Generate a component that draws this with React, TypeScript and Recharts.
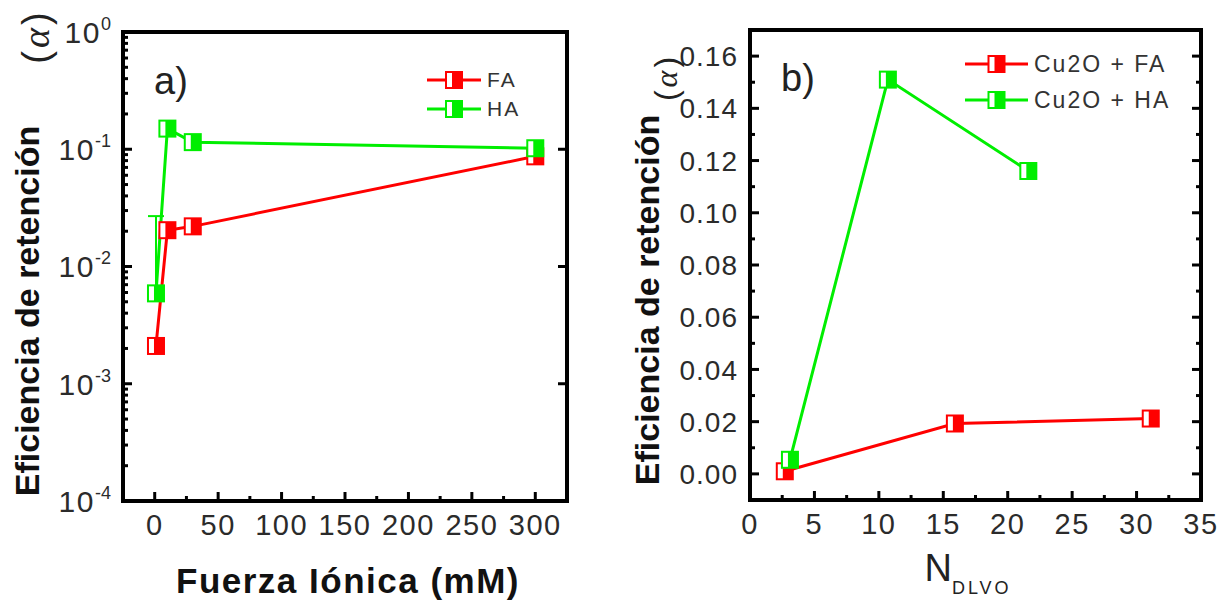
import React from "react";
import { LineChart, Line, XAxis, YAxis, ErrorBar, Legend, ReferenceArea } from "recharts";

// a) alfa vs fuerza iónica
const ionicFA = [1, 10, 30, 300];
const alphaFA = [0.0021, 0.0204, 0.022, 0.087];
const ionicHA = [1, 10, 30, 300];
const alphaHA = [0.0059, 0.15, 0.115, 0.102];
const errHA = [0.021, 0, 0, 0];

// b) alfa vs N_DLVO
const dlvoFA = [2.7, 15.9, 31.1];
const alphaDlvoFA = [0.001, 0.0193, 0.0212];
const dlvoHA = [3.1, 10.7, 21.6];
const alphaDlvoHA = [0.0054, 0.151, 0.116];

// ticks
const ionicTicks = [0, 50, 100, 150, 200, 250, 300];
const ionicMinor = [25, 75, 125, 175, 225, 275];
const logTicks = [0.0001, 0.001, 0.01, 0.1, 1];
const logMinor = [0.0001, 0.001, 0.01, 0.1].flatMap((d) =>
  [2, 3, 4, 5, 6, 7, 8, 9].map((m) => m * d)
);
const dlvoTicks = [0, 5, 10, 15, 20, 25, 30, 35];
const dlvoMinor = [2.5, 7.5, 12.5, 17.5, 22.5, 27.5, 32.5];
const alphaTicks = [0, 0.02, 0.04, 0.06, 0.08, 0.1, 0.12, 0.14, 0.16];
const alphaMinor = [0.01, 0.03, 0.05, 0.07, 0.09, 0.11, 0.13, 0.15];

const ionicDomain = [-25, 325];
const logDomain = [0.0001, 1];
const dlvoDomain = [0, 35];
const alphaDomain = [-0.01, 0.17];

const RED = "#ff0000";
const GREEN = "#00ee00";
const FONT = '"Liberation Sans", Arial, sans-serif';
const TICK_COLOR = "#2b2b2b";

const faIonic = ionicFA.map((x, i) => ({ x, y: alphaFA[i] }));
const haIonic = ionicHA.map((x, i) => ({ x, y: alphaHA[i], err: [0, errHA[i]] }));
const faDlvo = dlvoFA.map((x, i) => ({ x, y: alphaDlvoFA[i] }));
const haDlvo = dlvoHA.map((x, i) => ({ x, y: alphaDlvoHA[i] }));

// half filled square, like Origin
const HalfSquare = ({ cx, cy, color }: any) => {
  if (cx == null || cy == null) return null;
  return (
    <g>
      <rect x={cx - 8} y={cy - 8} width={16} height={16} fill="#fff" stroke={color} strokeWidth={2} />
      <rect x={cx - 2} y={cy - 8} width={10} height={16} fill={color} />
    </g>
  );
};

type Side = "bottom" | "top" | "left" | "right";

const tickMaker =
  (side: Side, majors: number[], label?: (v: number, x: number, y: number) => React.ReactNode) =>
  (props: any) => {
    const { x, y, payload } = props;
    const v = payload.value;
    const isMajor = majors.some((m) => Math.abs(m - v) < 1e-12);
    const len = isMajor ? 9 : 5;
    let x2 = x;
    let y2 = y;
    if (side === "bottom") y2 = y - len;
    if (side === "top") y2 = y + len;
    if (side === "left") x2 = x + len;
    if (side === "right") x2 = x - len;
    return (
      <g>
        <line x1={x} y1={y} x2={x2} y2={y2} stroke="#000" strokeWidth={3} />
        {isMajor && label ? label(v, x, y) : null}
      </g>
    );
  };

const bottomLabel = (v: number, x: number, y: number) => (
  <text
    x={x}
    y={y + 34}
    textAnchor="middle"
    fill={TICK_COLOR}
    fontSize={29}
    letterSpacing={1.5}
    fontFamily={FONT}
  >
    {v}
  </text>
);

const powLabel = (v: number, x: number, y: number) => (
  <text
    x={x - 12}
    y={y}
    dy="0.36em"
    textAnchor="end"
    fill={TICK_COLOR}
    fontSize={30}
    letterSpacing={1.5}
    fontFamily={FONT}
  >
    10
    <tspan dy={-13} fontSize={18} letterSpacing={0}>
      {Math.round(Math.log10(v))}
    </tspan>
  </text>
);

const decLabel = (v: number, x: number, y: number) => (
  <text
    x={x - 12}
    y={y}
    dy="0.36em"
    textAnchor="end"
    fill={TICK_COLOR}
    fontSize={28}
    letterSpacing={1}
    fontFamily={FONT}
  >
    {v.toFixed(2)}
  </text>
);

const LegendBox = ({ payload, fontSize, rowH, lineW }: any) => (
  <div style={{ fontFamily: FONT }}>
    {(payload || []).map((p: any) => (
      <div key={p.value} style={{ display: "flex", alignItems: "center", height: rowH }}>
        <svg width={lineW} height={20}>
          <line x1={0} x2={lineW} y1={10} y2={10} stroke={p.color} strokeWidth={3} />
          <HalfSquare cx={lineW / 2} cy={10} color={p.color} />
        </svg>
        <span style={{ marginLeft: 6, fontSize, letterSpacing: 2, color: "#333" }}>{p.value}</span>
      </div>
    ))}
  </div>
);

const Abs = ({ x, y, rotate, style, children }: any) => (
  <div
    style={{
      position: "absolute",
      left: x,
      top: y,
      transform: `translate(-50%, -50%)${rotate ? " rotate(-90deg)" : ""}`,
      whiteSpace: "nowrap",
      lineHeight: 1,
      fontFamily: FONT,
      ...style,
    }}
  >
    {children}
  </div>
);

const Alpha = ({ size }: any) => (
  <span style={{ fontSize: size, color: "#222" }}>
    (<i style={{ fontFamily: '"Liberation Serif", serif', margin: "0 3px" }}>α</i>)
  </span>
);

const axisCommon = {
  type: "number" as const,
  allowDataOverflow: true,
  interval: 0 as const,
  tickSize: 0,
  tickMargin: 0,
  stroke: "#000",
  axisLine: false,
  tickLine: false,
};

export default function App() {
  return (
    <div
      style={{
        position: "absolute",
        left: 0,
        top: 0,
        width: 1220,
        height: 601,
        background: "#fff",
        fontFamily: FONT,
        overflow: "hidden",
      }}
    >
      <div style={{ position: "absolute", left: 0, top: 0 }}>
        <LineChart width={600} height={601} margin={{ top: 31, left: 122, right: 32, bottom: 99 }}>
          <XAxis
            {...axisCommon}
            dataKey="x"
            domain={ionicDomain}
            ticks={[...ionicTicks, ...ionicMinor]}
            height={1}
            tick={tickMaker("bottom", ionicTicks, bottomLabel)}
          />
          <XAxis
            {...axisCommon}
            xAxisId="top"
            orientation="top"
            domain={ionicDomain}
            ticks={ionicTicks}
            height={1}
            tick={tickMaker("top", ionicTicks)}
          />
          <YAxis
            {...axisCommon}
            scale="log"
            domain={logDomain}
            ticks={[...logTicks, ...logMinor]}
            width={1}
            tick={tickMaker("left", logTicks, powLabel)}
          />
          <YAxis
            {...axisCommon}
            yAxisId="right"
            orientation="right"
            scale="log"
            domain={logDomain}
            ticks={logTicks}
            width={1}
            tick={tickMaker("right", logTicks)}
          />
          <ReferenceArea
            x1={ionicDomain[0]}
            x2={ionicDomain[1]}
            y1={logDomain[0]}
            y2={logDomain[1]}
            fill="none"
            fillOpacity={0}
            stroke="#000"
            strokeWidth={4}
            strokeOpacity={1}
          />
          <Legend
            layout="horizontal"
            verticalAlign="middle"
            align="center"
            wrapperStyle={{ left: 427, top: 65, width: 120 }}
            content={(p: any) => <LegendBox payload={p.payload} fontSize={21} rowH={29} lineW={54} />}
          />
          <Line
            name="FA"
            data={faIonic}
            dataKey="y"
            stroke={RED}
            strokeWidth={3}
            dot={(p: any) => <HalfSquare key={p.index} cx={p.cx} cy={p.cy} color={RED} />}
            activeDot={false}
            isAnimationActive={false}
          />
          <Line
            name="HA"
            data={haIonic}
            dataKey="y"
            stroke={GREEN}
            strokeWidth={3}
            dot={(p: any) => <HalfSquare key={p.index} cx={p.cx} cy={p.cy} color={GREEN} />}
            activeDot={false}
            isAnimationActive={false}
          >
            <ErrorBar dataKey="err" direction="y" width={8} stroke={GREEN} strokeWidth={2} />
          </Line>
        </LineChart>
      </div>

      <div style={{ position: "absolute", left: 600, top: 0 }}>
        <LineChart width={620} height={601} margin={{ top: 29, left: 149, right: 18, bottom: 100 }}>
          <XAxis
            {...axisCommon}
            dataKey="x"
            domain={dlvoDomain}
            ticks={[...dlvoTicks, ...dlvoMinor]}
            height={1}
            tick={tickMaker("bottom", dlvoTicks, bottomLabel)}
          />
          <XAxis
            {...axisCommon}
            xAxisId="top"
            orientation="top"
            domain={dlvoDomain}
            ticks={[...dlvoTicks, ...dlvoMinor]}
            height={1}
            tick={tickMaker("top", dlvoTicks)}
          />
          <YAxis
            {...axisCommon}
            domain={alphaDomain}
            ticks={[...alphaTicks, ...alphaMinor]}
            width={1}
            tick={tickMaker("left", alphaTicks, decLabel)}
          />
          <YAxis
            {...axisCommon}
            yAxisId="right"
            orientation="right"
            domain={alphaDomain}
            ticks={[...alphaTicks, ...alphaMinor]}
            width={1}
            tick={tickMaker("right", alphaTicks)}
          />
          <ReferenceArea
            x1={dlvoDomain[0]}
            x2={dlvoDomain[1]}
            y1={alphaDomain[0]}
            y2={alphaDomain[1]}
            fill="none"
            fillOpacity={0}
            stroke="#000"
            strokeWidth={4}
            strokeOpacity={1}
          />
          <Legend
            layout="horizontal"
            verticalAlign="middle"
            align="center"
            wrapperStyle={{ left: 365, top: 46, width: 250 }}
            content={(p: any) => <LegendBox payload={p.payload} fontSize={23} rowH={36} lineW={63} />}
          />
          <Line
            name="Cu2O + FA"
            data={faDlvo}
            dataKey="y"
            stroke={RED}
            strokeWidth={3}
            dot={(p: any) => <HalfSquare key={p.index} cx={p.cx} cy={p.cy} color={RED} />}
            activeDot={false}
            isAnimationActive={false}
          />
          <Line
            name="Cu2O + HA"
            data={haDlvo}
            dataKey="y"
            stroke={GREEN}
            strokeWidth={3}
            dot={(p: any) => <HalfSquare key={p.index} cx={p.cx} cy={p.cy} color={GREEN} />}
            activeDot={false}
            isAnimationActive={false}
          />
        </LineChart>
      </div>

      <Abs x={171} y={81} style={{ fontSize: 38, color: "#222" }}>a)</Abs>
      <Abs x={798} y={78} style={{ fontSize: 38, color: "#222" }}>b)</Abs>

      <Abs x={348} y={580} style={{ fontSize: 35, fontWeight: "bold", letterSpacing: 1.5, color: "#111" }}>
        Fuerza Iónica (mM)
      </Abs>
      <Abs x={968} y={568} style={{ color: "#222" }}>
        <span style={{ fontSize: 38 }}>N</span>
        <span style={{ fontSize: 18, letterSpacing: 3, position: "relative", top: 13 }}>DLVO</span>
      </Abs>

      <Abs x={27} y={311} rotate style={{ fontSize: 34, fontWeight: "bold", color: "#111" }}>
        Eficiencia de retención
      </Abs>
      <Abs x={36} y={38} rotate>
        <Alpha size={38} />
      </Abs>
      <Abs x={647} y={300} rotate style={{ fontSize: 34, fontWeight: "bold", color: "#111" }}>
        Eficiencia de retención
      </Abs>
      <Abs x={666} y={79} rotate>
        <Alpha size={32} />
      </Abs>
    </div>
  );
}
